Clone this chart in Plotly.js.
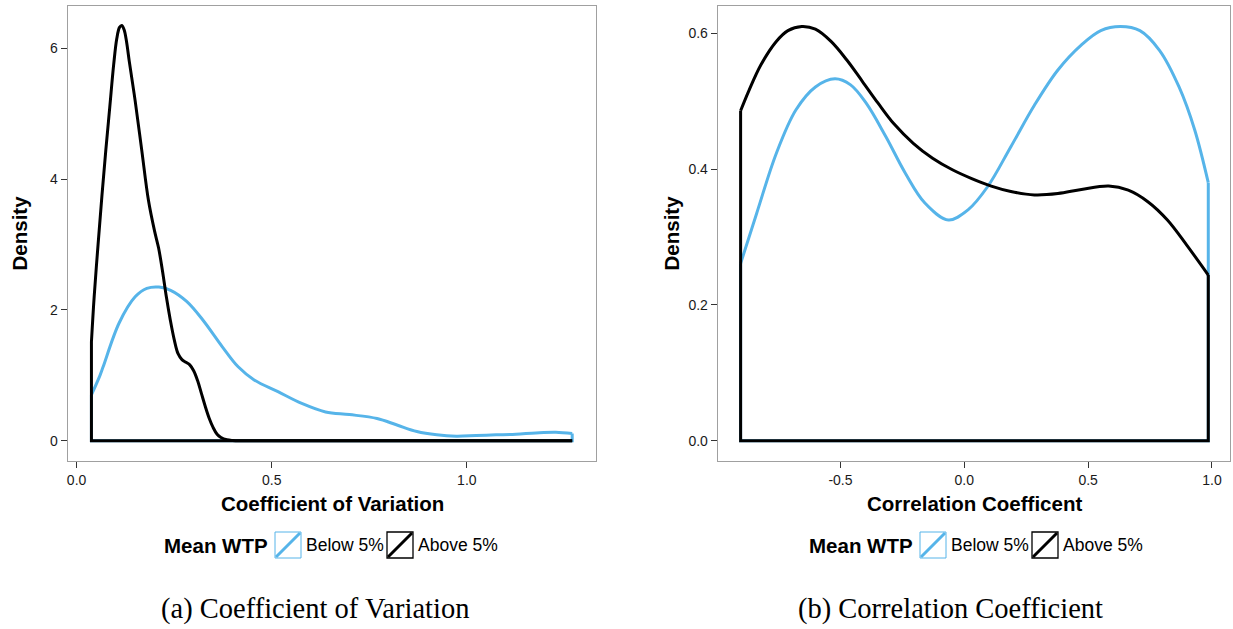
<!DOCTYPE html>
<html>
<head>
<meta charset="utf-8">
<script src="https://cdn.plot.ly/plotly-3.0.1.min.js"></script>
<style>
  html, body { margin: 0; padding: 0; background: #fff; }
  #chart { width: 1233px; height: 629px; }
</style>
</head>
<body>
<div id="chart"></div>
<script>
// ---- Panel (a): density of the coefficient of variation ----
const cvBelowX = [0.038, 0.060, 0.068, 0.109, 0.150, 0.180, 0.211, 0.241, 0.282, 0.323, 0.373, 0.414, 0.455, 0.516, 0.577, 0.638, 0.699, 0.770, 0.821, 0.872, 0.923, 0.973, 1.024, 1.075, 1.126, 1.177, 1.228, 1.270];
const cvBelowY = [0.70, 1.00, 1.13, 1.80, 2.20, 2.33, 2.35, 2.30, 2.13, 1.85, 1.44, 1.13, 0.93, 0.75, 0.57, 0.44, 0.40, 0.34, 0.24, 0.14, 0.09, 0.07, 0.08, 0.09, 0.10, 0.12, 0.13, 0.11];

const cvAboveX = [0.038, 0.045, 0.055, 0.065, 0.075, 0.085, 0.095, 0.103, 0.110, 0.116, 0.122, 0.128, 0.135, 0.150, 0.167, 0.184, 0.200, 0.210, 0.220, 0.230, 0.240, 0.250, 0.260, 0.270, 0.280, 0.290, 0.300, 0.310, 0.320, 0.330, 0.340, 0.350, 0.360, 0.370, 0.385, 0.400, 0.420, 0.500, 0.700, 0.900, 1.100, 1.270];
const cvAboveY = [1.51, 2.20, 3.00, 3.75, 4.45, 5.10, 5.75, 6.15, 6.32, 6.35, 6.28, 6.10, 5.80, 5.20, 4.44, 3.68, 3.20, 2.95, 2.60, 2.20, 1.85, 1.55, 1.33, 1.24, 1.20, 1.16, 1.07, 0.92, 0.72, 0.52, 0.34, 0.20, 0.10, 0.05, 0.015, 0.004, 0.0, 0.0, 0.0, 0.0, 0.0, 0.0];

// ---- Panel (b): density of the correlation coefficient ----
const ccBelowX = [-0.903, -0.838, -0.759, -0.680, -0.601, -0.522, -0.459, -0.396, -0.317, -0.238, -0.159, -0.064, 0.015, 0.094, 0.188, 0.283, 0.378, 0.473, 0.551, 0.630, 0.709, 0.788, 0.867, 0.930, 0.985];
const ccBelowY = [0.261, 0.335, 0.423, 0.487, 0.521, 0.533, 0.524, 0.497, 0.448, 0.394, 0.350, 0.325, 0.340, 0.374, 0.433, 0.494, 0.546, 0.583, 0.604, 0.610, 0.604, 0.575, 0.521, 0.458, 0.380];

const ccAboveX = [-0.903, -0.869, -0.822, -0.759, -0.712, -0.656, -0.601, -0.538, -0.475, -0.411, -0.348, -0.285, -0.206, -0.128, -0.048, 0.030, 0.109, 0.188, 0.283, 0.378, 0.473, 0.583, 0.662, 0.741, 0.820, 0.898, 0.985];
const ccAboveY = [0.486, 0.516, 0.553, 0.588, 0.604, 0.610, 0.606, 0.588, 0.561, 0.529, 0.497, 0.467, 0.438, 0.416, 0.399, 0.386, 0.375, 0.367, 0.362, 0.364, 0.370, 0.375, 0.369, 0.352, 0.325, 0.288, 0.244];

// ---- Axis ticks ----
const cvTickVals = [0, 0.5, 1.0];
const cvTickText = ['0.0', '0.5', '1.0'];
const cvDensVals = [0, 2, 4, 6];
const cvDensText = ['0', '2', '4', '6'];
const ccTickVals = [-0.5, 0, 0.5, 1.0];
const ccTickText = ['-0.5', '0.0', '0.5', '1.0'];
const ccDensVals = [0, 0.2, 0.4, 0.6];
const ccDensText = ['0.0', '0.2', '0.4', '0.6'];

// ---- Legend / labels ----
const groupNames = ['Below 5%', 'Above 5%'];
const groupColors = ['#56B4E9', '#000000'];
const legendTitle = 'Mean WTP';
const axisTitles = ['Coefficient of Variation', 'Correlation Coefficent'];
const captions = ['(a) Coefficient of Variation', '(b) Correlation Coefficient'];

const W = 1233, H = 629;
const px = v => v / W;
const py = v => 1 - v / H;
const SANS = 'Liberation Sans, Arial, sans-serif';
const SERIF = 'Liberation Serif, Times New Roman, serif';

// A density outline: smooth curve plus the closing edges down to zero.
function densityTraces(xs, ys, color, xa, ya) {
  const n = xs.length;
  const line = {color: color, width: 3};
  return [
    {x: [xs[n - 1], xs[n - 1], xs[0], xs[0]], y: [ys[n - 1], 0, 0, ys[0]],
     xaxis: xa, yaxis: ya, mode: 'lines', line: Object.assign({shape: 'linear'}, line),
     showlegend: false, hoverinfo: 'skip'},
    {x: xs, y: ys, xaxis: xa, yaxis: ya, mode: 'lines',
     line: Object.assign({shape: 'spline', smoothing: 1}, line),
     showlegend: false}
  ];
}

const traces = [].concat(
  densityTraces(cvBelowX, cvBelowY, groupColors[0], 'x', 'y'),
  densityTraces(cvAboveX, cvAboveY, groupColors[1], 'x', 'y'),
  densityTraces(ccBelowX, ccBelowY, groupColors[0], 'x2', 'y2'),
  densityTraces(ccAboveX, ccAboveY, groupColors[1], 'x2', 'y2')
);

const axisBase = {
  showgrid: false, zeroline: false, showline: true, mirror: true,
  linecolor: '#a0a0a0', linewidth: 1,
  ticks: 'outside', ticklen: 6, tickwidth: 1, tickcolor: '#333333',
  tickmode: 'array', fixedrange: true,
  tickfont: {family: SANS, size: 14, color: '#1a1a1a'}
};

const yDomain = [py(461), py(6)];

const layout = {
  width: W, height: H,
  margin: {l: 0, r: 0, t: 0, b: 0},
  paper_bgcolor: '#ffffff', plot_bgcolor: '#ffffff',
  showlegend: false,
  xaxis: Object.assign({}, axisBase, {domain: [px(67.7), px(596)], range: [-0.0228, 1.331],
    tickvals: cvTickVals, ticktext: cvTickText, anchor: 'y'}),
  yaxis: Object.assign({}, axisBase, {domain: yDomain, range: [-0.31, 6.647],
    tickvals: cvDensVals, ticktext: cvDensText, anchor: 'x'}),
  xaxis2: Object.assign({}, axisBase, {domain: [px(717.7), px(1230)], range: [-0.9955, 1.0727],
    tickvals: ccTickVals, ticktext: ccTickText, anchor: 'y2'}),
  yaxis2: Object.assign({}, axisBase, {domain: yDomain, range: [-0.0299, 0.6402],
    tickvals: ccDensVals, ticktext: ccDensText, anchor: 'x2'}),
  annotations: [],
  shapes: []
};

const panels = [
  {center: 332, densityX: 19, legendLeft: 162, captionX: 315},
  {center: 974, densityX: 671, legendLeft: 807, captionX: 951}
];

panels.forEach((p, i) => {
  // x-axis title
  layout.annotations.push({
    xref: 'paper', yref: 'paper', x: px(p.center), y: py(503),
    xanchor: 'center', yanchor: 'middle', showarrow: false,
    text: '<b>' + axisTitles[i] + '</b>',
    font: {family: SANS, size: 20.5, color: '#000'}
  });
  // y-axis title
  layout.annotations.push({
    xref: 'paper', yref: 'paper', x: px(p.densityX), y: py(233.5),
    xanchor: 'center', yanchor: 'middle', showarrow: false, textangle: -90,
    text: '<b>Density</b>',
    font: {family: SANS, size: 20.5, color: '#000'}
  });
  // legend title
  const L = p.legendLeft;
  const ly = 545;
  layout.annotations.push({
    xref: 'paper', yref: 'paper', x: px(L), y: py(ly),
    xanchor: 'left', yanchor: 'middle', showarrow: false,
    text: '<b>' + legendTitle + '</b>',
    font: {family: SANS, size: 20.5, color: '#000'}
  });
  // legend keys
  const keyLefts = [L + 113, L + 225];
  groupNames.forEach((name, g) => {
    const kx = keyLefts[g];
    const k = 26;
    layout.shapes.push({
      type: 'rect', xref: 'paper', yref: 'paper',
      x0: px(kx), x1: px(kx + k), y0: py(ly - k / 2), y1: py(ly + k / 2),
      line: {color: groupColors[g], width: g === 0 ? 1 : 1.3}, fillcolor: 'rgba(0,0,0,0)'
    });
    layout.shapes.push({
      type: 'line', xref: 'paper', yref: 'paper',
      x0: px(kx + 1), y0: py(ly + k / 2 - 1), x1: px(kx + k - 1), y1: py(ly - k / 2 + 1),
      line: {color: groupColors[g], width: 3}
    });
    layout.annotations.push({
      xref: 'paper', yref: 'paper', x: px(kx + k + 3), y: py(ly),
      xanchor: 'left', yanchor: 'middle', showarrow: false,
      text: name,
      font: {family: SANS, size: 17.5, color: '#000'}
    });
  });
  // sub-figure caption
  layout.annotations.push({
    xref: 'paper', yref: 'paper', x: px(p.captionX), y: py(609),
    xanchor: 'center', yanchor: 'middle', showarrow: false,
    text: captions[i],
    font: {family: SERIF, size: 28.5, color: '#000'}
  });
});

Plotly.newPlot('chart', traces, layout, {displayModeBar: false, staticPlot: true});
</script>
</body>
</html>
